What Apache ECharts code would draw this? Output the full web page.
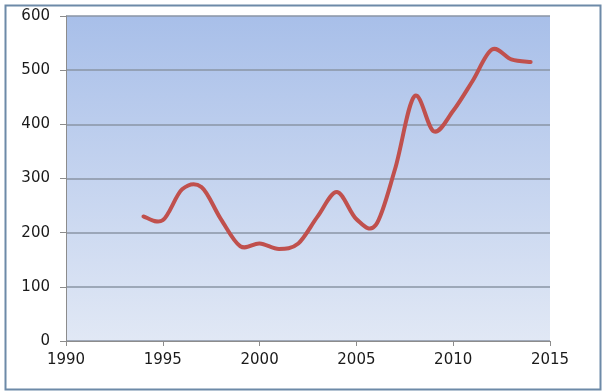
<!DOCTYPE html>
<html>
<head>
<meta charset="utf-8">
<script src="https://cdn.jsdelivr.net/npm/echarts@6/dist/echarts.min.js"></script>
<style>
html,body{margin:0;padding:0;background:#fff;}
#c{width:602px;height:392px;}
</style>
</head>
<body>
<div id="c"></div>
<script>
var years = [1994,1995,1996,1997,1998,1999,2000,2001,2002,2003,2004,2005,2006,2007,2008,2009,2010,2011,2012,2013,2014];
var values = [230,223,280,284,225,175,180,170,180,230,275,225,214,318,452,387,425,480,538,520,515];
var xTicks = [1990,1995,2000,2005,2010,2015];
var yTicks = [0,100,200,300,400,500,600];

var chart = echarts.init(document.getElementById('c'), null, {renderer:'canvas'});
var labelStyle = {color:'#1a1a1a', fontFamily:'DejaVu Sans', fontSize:15};

function renderSmooth(params, api){
  if (params.dataIndex !== 0) return null;
  var pts = years.map(function(y,i){ return api.coord([y, values[i]]); });
  var n = pts.length, t = 1/6;
  var d = 'M' + pts[0][0] + ' ' + pts[0][1];
  for (var i = 0; i < n - 1; i++) {
    var p0 = pts[Math.max(i-1,0)], p1 = pts[i], p2 = pts[i+1], p3 = pts[Math.min(i+2,n-1)];
    var c1x = p1[0] + (p2[0]-p0[0])*t, c1y = p1[1] + (p2[1]-p0[1])*t;
    var c2x = p2[0] - (p3[0]-p1[0])*t, c2y = p2[1] - (p3[1]-p1[1])*t;
    d += ' C' + c1x + ' ' + c1y + ' ' + c2x + ' ' + c2y + ' ' + p2[0] + ' ' + p2[1];
  }
  return {
    type:'path',
    shape:{pathData:d},
    style:{fill:'none', stroke:'#c0504d', lineWidth:4, lineJoin:'round', lineCap:'round'}
  };
}

chart.setOption({
  animation:false,
  backgroundColor:'#ffffff',
  graphic:[{
    type:'rect', left:3, top:3, shape:{width:595, height:384},
    style:{fill:'none', stroke:'#6d8aa8', lineWidth:2}, z:-1
  }],
  grid:{left:66, right:52, top:16, bottom:51, show:true, borderWidth:0,
    backgroundColor:{type:'linear',x:0,y:0,x2:0,y2:1,colorStops:[{offset:0,color:'#a8bfe9'},{offset:1,color:'#e1e8f5'}]}},
  xAxis:{type:'value', min:xTicks[0], max:xTicks[xTicks.length-1], interval:5,
    axisLine:{show:true, lineStyle:{color:'#8c8c8c', width:1}},
    axisTick:{show:true, length:5, lineStyle:{color:'#8c8c8c'}},
    splitLine:{show:false},
    axisLabel:Object.assign({margin:12, formatter:function(v){return String(v);}}, labelStyle)},
  yAxis:{type:'value', min:yTicks[0], max:yTicks[yTicks.length-1], interval:100,
    axisLine:{show:true, lineStyle:{color:'#8c8c8c', width:1}},
    axisTick:{show:true, length:6, lineStyle:{color:'#8c8c8c'}},
    splitLine:{show:true, lineStyle:{color:'#8a95a5', width:1.5}},
    axisLabel:Object.assign({margin:16}, labelStyle)},
  series:[{
    type:'custom',
    renderItem: renderSmooth,
    encode:{x:0, y:1},
    data: years.map(function(y,i){return [y, values[i]];}),
    clip:true
  }]
});
</script>
</body>
</html>
